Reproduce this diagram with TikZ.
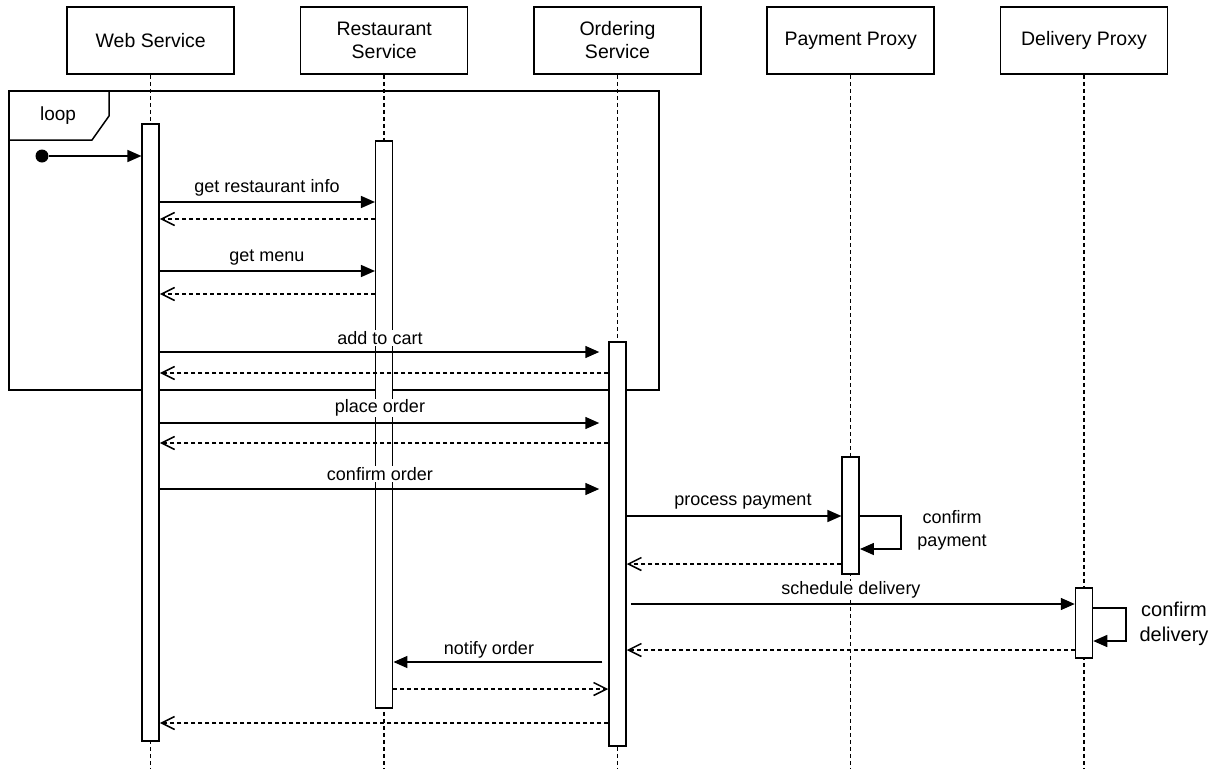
\documentclass[tikz,border=0pt]{standalone}
\usepackage{fontspec}
\setmainfont{Liberation Sans}
\usetikzlibrary{arrows.meta}
\begin{document}
\begin{tikzpicture}[x=1pt,y=-1pt,
 lw/.style={line width=1.5pt},
 hdr/.style={draw, lw, minimum width=167pt, minimum height=67pt, font=\fontsize{19.5}{23}\selectfont, align=center, inner sep=0pt},
 bar/.style={draw, lw, fill=white, minimum width=17pt, inner sep=0pt},
 life/.style={lw, dash pattern=on 4pt off 3pt},
 msg/.style={lw, -{Triangle[length=14pt,width=12pt]}},
 ret/.style={lw, dash pattern=on 4pt off 3pt, -{Straight Barb[length=13pt,width=13pt]}},
 lbl/.style={fill=white, inner sep=1pt, font=\fontsize{18}{22}\selectfont},
 slbl/.style={inner sep=0pt, align=center, font=\fontsize{18}{23}\selectfont}]
\useasboundingbox (0,0) rectangle (1219,769);
% headers
\node[hdr] (hw) at (150.7,40.5) {Web Service};
\node[hdr] (hr) at (384.2,40.5) {Restaurant\\Service};
\node[hdr] (ho) at (617.5,40.5) {Ordering\\Service};
\node[hdr] (hp) at (850.7,40.5) {Payment Proxy};
\node[hdr] (hd) at (1084,40.5) {Delivery Proxy};
% lifelines
\foreach \h in {hw,hr,ho,hp,hd} {\coordinate (\h end) at (\h.south |- 0,769); \draw[life] (\h.south) -- (\h end);}
% loop frame
\draw[lw] (9,91) rectangle (659,390);
\draw[lw] (9,91) -- (109,91) -- (109,116) -- (92,140) -- (9,140);
\node[font=\fontsize{19}{22}\selectfont, inner sep=0pt] (looplbl) at (58,116) {loop};
% activation bars
\node[bar, minimum height=617pt] (wb) at (150.7,432.5) {};
\node[bar, minimum height=567pt] (rb) at (384.2,424.5) {};
\node[bar, minimum height=404pt] (ob) at (617.5,544) {};
\node[bar, minimum height=117pt] (pb) at (850.7,515.5) {};
\node[bar, minimum height=70pt] (db) at (1084,623) {};
% start
\node[circle, fill, inner sep=0pt, minimum size=13pt] (start) at (42,156) {};
\draw[msg] (start) -- (wb.west |- start);
% messages
\draw[msg] (wb.east |- 0,202) -- (rb.west |- 0,202);
\node[lbl] (l1) at (267,188) {get restaurant info};
\draw[ret] (rb.west |- 0,219) -- (wb.east |- 0,219);
\draw[msg] (wb.east |- 0,271) -- (rb.west |- 0,271);
\node[lbl] (l2) at (267,258) {get menu};
\draw[ret] (rb.west |- 0,294) -- (wb.east |- 0,294);
\draw[msg, shorten >=9pt] (wb.east |- 0,352) -- (ob.west |- 0,352);
\node[lbl] (l3) at (380,338) {add to cart};
\draw[ret] (ob.west |- 0,373) -- (wb.east |- 0,373);
\draw[msg, shorten >=9pt] (wb.east |- 0,423) -- (ob.west |- 0,423);
\node[lbl] (l4) at (380,408) {place order};
\draw[ret] (ob.west |- 0,443) -- (wb.east |- 0,443);
\draw[msg, shorten >=9pt] (wb.east |- 0,489) -- (ob.west |- 0,489);
\node[lbl] (l5) at (380,474) {confirm order};
\draw[msg] (ob.east |- 0,516) -- (pb.west |- 0,516);
\node[lbl] (l6) at (743,502) {process payment};
\coordinate (pself) at (901,516);
\draw[msg] (pb.east |- 0,516) -- (pself) -- (pself |- 0,549) -- (pb.east |- 0,549);
\node[slbl] (l7) at (952,530) {confirm\\payment};
\draw[ret] (pb.west |- 0,564) -- (ob.east |- 0,564);
\draw[msg, shorten <=4pt] (ob.east |- 0,604) -- (db.west |- 0,604);
\node[lbl] (l8) at (851,590) {schedule delivery};
\coordinate (dself) at (1126,608);
\draw[msg] (db.east |- 0,608) -- (dself) -- (dself |- 0,641) -- (db.east |- 0,641);
\node[slbl, font=\fontsize{20}{25}\selectfont] (l9) at (1174,624) {confirm\\delivery};
\draw[ret] (db.west |- 0,650) -- (ob.east |- 0,650);
\draw[msg, shorten <=6pt] (ob.west |- 0,662) -- (rb.east |- 0,662);
\node[lbl] (l10) at (489,650) {notify order};
\draw[ret] (rb.east |- 0,689) -- (ob.west |- 0,689);
\draw[ret] (ob.west |- 0,723) -- (wb.east |- 0,723);
\end{tikzpicture}
\end{document}
